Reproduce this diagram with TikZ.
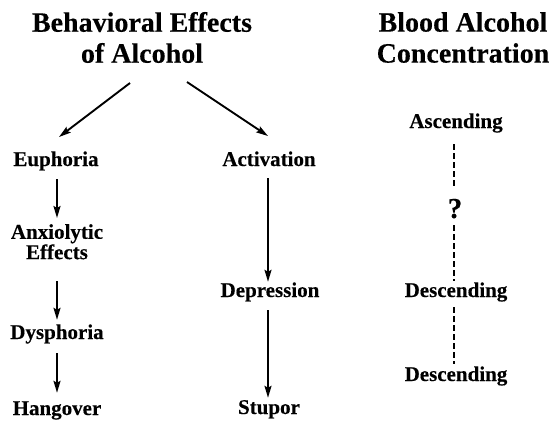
\documentclass[tikz,border=0pt]{standalone}
\usepackage{fontspec}
\setmainfont{Liberation Serif}
\newfontfamily\heavy[BoldFeatures={FakeBold=0.3}]{Liberation Serif}
\usetikzlibrary{arrows.meta}
\tikzset{
  titlebox/.style={font=\heavy\bfseries\fontsize{28}{31}\selectfont, align=center, inner sep=0pt},
  lbl/.style={font=\heavy\bfseries\fontsize{21}{18}\selectfont, inner sep=0pt, text height=14pt, text depth=4pt, anchor=base},
  lbl2/.style={font=\heavy\bfseries\fontsize{21}{18}\selectfont, inner sep=0pt, align=center, anchor=north},
  qmark/.style={font=\heavy\bfseries\fontsize{29}{30}\selectfont, inner sep=0pt, text height=20pt, text depth=0pt, anchor=base},
  arr/.style={line width=1.9pt, -{Stealth[length=12pt,width=7pt,inset=2pt]}},
  dashline/.style={line width=2pt, dash pattern=on 5.5pt off 3.5pt}
}
\begin{document}
\begin{tikzpicture}[x=1pt,y=-1pt]
\useasboundingbox (0,0) rectangle (557,426);
% titles
\node[titlebox] (t1) at (142,37.5) {Behavioral Effects\\of Alcohol};
\node[titlebox] (t2) at (463,37.5) {Blood Alcohol\\Concentration};
% left column
\node[lbl] (eu) at (56,166) {Euphoria};
\node[lbl2] (anx) at (57,224) {Anxiolytic\\Effects};
\node[lbl] (dys) at (57,339) {Dysphoria};
\node[lbl] (hang) at (57,415) {Hangover};
% middle column
\node[lbl] (act) at (269,166) {Activation};
\node[lbl] (dep) at (270,297) {Depression};
\node[lbl] (stu) at (269,414) {Stupor};
% right column
\node[lbl] (asc) at (456,128) {Ascending};
\node[qmark] (q) at (455,218) {?};
\node[lbl] (des1) at (456,297) {Descending};
\node[lbl] (des2) at (456,381) {Descending};
% diagonal arrows
\coordinate (ls) at (130,83);
\coordinate (le) at (59,137);
\coordinate (rs) at (187,82);
\coordinate (re) at (268,136);
\draw[arr] (ls) -- (le);
\draw[arr] (rs) -- (re);
% vertical arrows
\draw[arr, shorten <=9pt, shorten >=6pt] (eu.south -| anx.north) -- (anx.north);
\draw[arr, shorten <=22pt, shorten >=5pt] (anx.south) -- (dys.north);
\draw[arr, shorten <=10pt, shorten >=8pt] (dys.south) -- (hang.north);
\draw[arr, shorten <=8pt, shorten >=1pt] (act.south -| 268,0) -- (dep.north -| 268,0);
\draw[arr, shorten <=9pt, shorten >=2pt] (dep.south -| 268,0) -- (stu.north -| 268,0);
% dashed connectors
\draw[dashline, shorten <=12pt, shorten >=11pt] (asc.south -| 454,0) -- (q.north -| 454,0);
\draw[dashline, shorten <=7pt, shorten >=2pt] (q.south -| 454,0) -- (des1.north -| 454,0);
\draw[dashline, shorten <=6pt, shorten >=3pt] (des1.south -| 454,0) -- (des2.north -| 454,0);
\end{tikzpicture}
\end{document}
